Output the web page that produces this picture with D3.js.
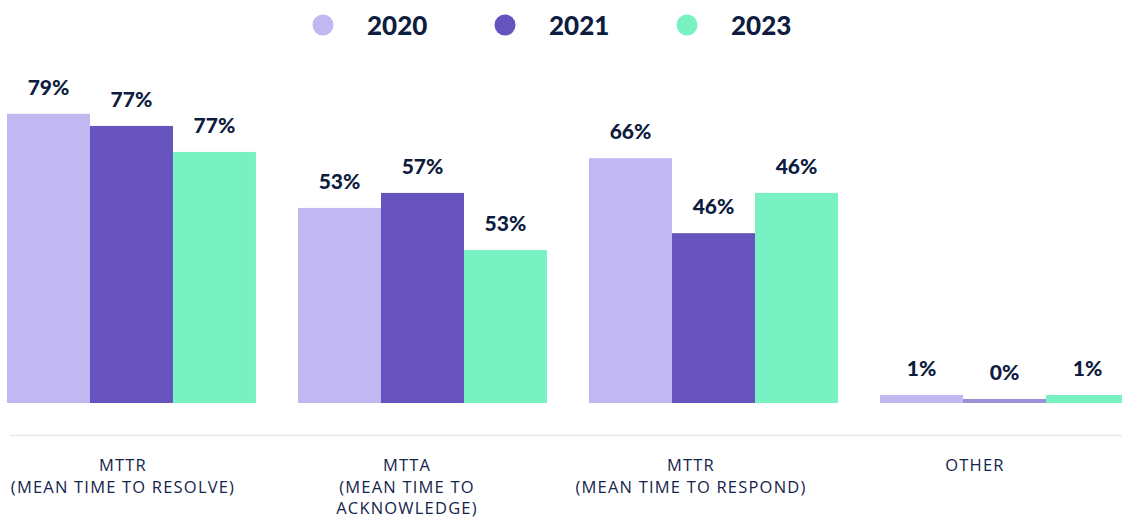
<!DOCTYPE html>
<html>
<head>
<meta charset="utf-8">
<script src="https://cdn.jsdelivr.net/npm/d3@7"></script>
<style>
  html, body { margin: 0; padding: 0; background: #ffffff; }
  svg { display: block; }
</style>
</head>
<body>
<svg id="chart" width="1122" height="521"></svg>
<script>
// ---- data ----
const categories = ["MTTR (MEAN TIME TO RESOLVE)", "MTTA (MEAN TIME TO ACKNOWLEDGE)", "MTTR (MEAN TIME TO RESPOND)", "OTHER"];
const categoryLines = [["MTTR", "(MEAN TIME TO RESOLVE)"], ["MTTA", "(MEAN TIME TO", "ACKNOWLEDGE)"], ["MTTR", "(MEAN TIME TO RESPOND)"], ["OTHER"]];
const seriesNames = ["2020", "2021", "2023"];
const values2020 = [79.0, 53.3, 66.9, 2.2];
const values2021 = [75.7, 57.4, 46.4, 1.1];
const values2023 = [68.6, 41.8, 57.4, 2.2];
const labels2020 = ["79%", "53%", "66%", "1%"];
const labels2021 = ["77%", "57%", "46%", "0%"];
const labels2023 = ["77%", "53%", "46%", "1%"];
const colors = ["#c1b8f1", "#6753be", "#79f2c3"];

const seriesValues = [values2020, values2021, values2023];
const seriesLabels = [labels2020, labels2021, labels2023];

const svg = d3.select("#chart");
const textColor = "#0e1c40";

// band scale: groups of 3 bars (83px each), step ~291px
const x0 = d3.scaleBand().domain(categories).range([7, 1129]).paddingInner(0.1445).paddingOuter(0);
const x1 = d3.scaleBand().domain(seriesNames).range([0, x0.bandwidth()]).padding(0);
const y = d3.scaleLinear().domain([0, 100]).range([403, 37]);
const xLabel = d3.scalePoint().domain(categories).range([123, 975]);

// bars
const rows = [];
categories.forEach((c, i) => {
  seriesNames.forEach((s, j) => {
    rows.push({ cat: c, series: s, value: seriesValues[j][i], label: seriesLabels[j][i], color: colors[j] });
  });
});

svg.append("g").selectAll("rect").data(rows).join("rect")
  .attr("x", d => x0(d.cat) + x1(d.series))
  .attr("y", d => y(d.value))
  .attr("width", x1.bandwidth())
  .attr("height", d => y(0) - y(d.value))
  .attr("fill", d => d.color)
  .attr("fill-opacity", d => d.label === "0%" ? 0.65 : 1);

// value labels
svg.append("g").selectAll("text").data(rows).join("text")
  .attr("x", d => x0(d.cat) + x1(d.series) + x1.bandwidth() / 2)
  .attr("y", d => y(d.value) - 19)
  .attr("text-anchor", "middle")
  .attr("font-family", "Lato, 'Open Sans', sans-serif")
  .attr("font-weight", 900)
  .attr("font-size", 21)
  .attr("fill", textColor)
  .text(d => d.label);

// axis line
svg.append("line")
  .attr("x1", 10).attr("x2", 1122)
  .attr("y1", 435.5).attr("y2", 435.5)
  .attr("stroke", "#e6e8f0").attr("stroke-width", 1.5);

// category labels
const catG = svg.append("g").selectAll("text").data(categories).join("text")
  .attr("x", d => xLabel(d))
  .attr("y", 471)
  .attr("text-anchor", "middle")
  .attr("font-family", "'Open Sans', 'Noto Sans', sans-serif")
  .attr("font-size", 16.5)
  .attr("letter-spacing", 1.2)
  .attr("fill", "#15244a");
catG.each(function(d, i) {
  const t = d3.select(this);
  categoryLines[i].forEach((line, k) => {
    t.append("tspan").attr("x", xLabel(d)).attr("dy", k === 0 ? 0 : 21.5).text(line);
  });
});

// legend
const legendX = d3.scalePoint().domain(seriesNames).range([323, 687]);
const lg = svg.append("g").selectAll("g").data(seriesNames).join("g")
  .attr("transform", d => `translate(${legendX(d)},25)`);
lg.append("circle").attr("r", 10.5).attr("fill", (d, i) => colors[i]);
lg.append("text")
  .attr("x", 44).attr("y", 9.5)
  .attr("font-family", "Lato, 'Open Sans', sans-serif")
  .attr("font-weight", 900)
  .attr("font-size", 26)
  .attr("fill", textColor)
  .text(d => d);
</script>
</body>
</html>
